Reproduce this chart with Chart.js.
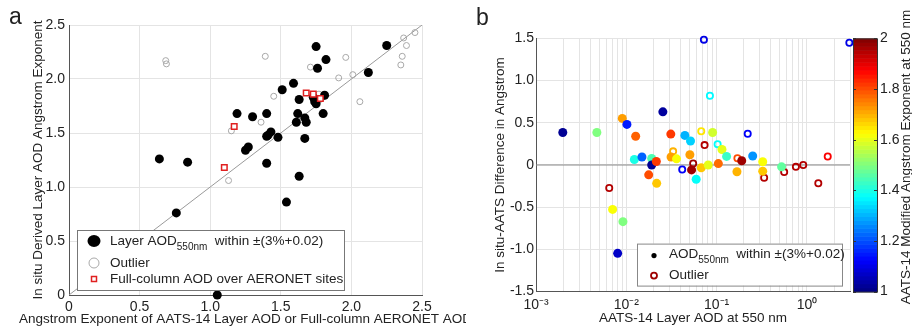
<!DOCTYPE html>
<html>
<head>
<meta charset="utf-8">
<title>Angstrom exponent comparison</title>
<script src="https://cdn.jsdelivr.net/npm/chart.js@4.4.0/dist/chart.umd.min.js"></script>
<style>
    html, body { margin: 0; padding: 0; background: #fff; }
    #wrap { position: relative; width: 912px; height: 330px; overflow: hidden; background: #fff; }
    #panel-a { position: absolute; left: 0; top: 0; }
    #panel-b { position: absolute; left: 466px; top: 0; background: #fff; }
</style>
</head>
<body>
<div id="wrap">
    <canvas id="panel-a" width="466" height="330"></canvas>
    <canvas id="panel-b" width="446" height="330"></canvas>
</div>
<script>
// ---- panel a: AATS-14 vs in situ Angstrom exponent ----
const inRangeAatsAE = [2.25, 1.75, 1.82, 1.76, 2.12, 1.59, 1.51, 1.63, 1.81, 1.73, 1.75, 1.80, 1.19, 1.30, 1.40, 1.62, 1.61, 1.67, 1.68, 1.67, 1.43, 1.41, 1.40, 1.48, 1.27, 1.25, 1.40, 0.64, 0.84, 1.63, 1.54, 0.76, 1.05, 1.74];
const inRangeInsituAE = [2.31, 2.30, 2.18, 2.10, 2.06, 1.96, 1.90, 1.81, 1.85, 1.83, 1.77, 1.68, 1.68, 1.65, 1.68, 1.68, 1.60, 1.64, 1.60, 1.45, 1.51, 1.48, 1.47, 1.46, 1.37, 1.34, 1.22, 1.26, 1.23, 1.10, 0.86, 0.76, 0.00, 1.79];
const outlierAatsAE = [0.685, 0.69, 1.39, 1.71, 1.96, 1.91, 2.01, 2.06, 1.45, 1.36, 1.15, 1.13, 2.37, 2.45, 2.39, 2.36, 2.35, 1.77];
const outlierInsituAE = [2.17, 2.14, 2.21, 2.11, 2.20, 2.01, 2.04, 1.79, 1.84, 1.60, 1.52, 1.06, 2.38, 2.43, 2.31, 2.21, 2.13, 1.86];
const aeronetAE = [1.17, 1.10, 1.68, 1.73, 1.78];
const aeronetInsituAE = [1.56, 1.18, 1.87, 1.86, 1.82];
const oneToOne = [0, 2.5];
const aeTicks = [0, 0.5, 1, 1.5, 2, 2.5];

// ---- panel b: difference vs layer AOD, coloured by AATS-14 AE ----
const inRangeAod = [0.00198, 0.00472, 0.00903, 0.01016, 0.0127, 0.0254, 0.01228, 0.0149, 0.0191, 0.0191, 0.0215, 0.0177, 0.0217, 0.00705, 0.00918, 0.00802, 0.0311, 0.0445, 0.0514, 0.0313, 0.036, 0.0506, 0.0528, 0.0594, 0.0676, 0.0807, 0.0903, 0.1147, 0.1045, 0.129, 0.1897, 0.168, 0.251, 0.324, 0.324, 0.524];
const inRangeDiff = [0.385, 0.385, 0.552, 0.481, 0.340, 0.630, 0.065, 0.095, 0.077, 0.0, 0.041, -0.117, -0.217, -0.526, -0.671, -1.047, 0.366, 0.351, 0.284, 0.095, 0.073, 0.121, -0.058, -0.169, -0.032, 0.0, 0.385, 0.184, 0.017, 0.102, 0.050, -0.080, 0.106, 0.039, -0.073, -0.022];
const inRangeModAE = [1.02, 1.5, 1.72, 1.15, 1.78, 1.03, 1.4, 1.22, 1.45, 1.02, 1.82, 1.8, 1.68, 1.62, 1.5, 1.07, 1.82, 1.3, 1.33, 1.72, 1.62, 1.72, 1.97, 1.38, 1.68, 1.6, 1.58, 1.6, 1.77, 1.43, 1.97, 1.7, 1.27, 1.62, 1.68, 1.47];
const outlierAod = [0.0723, 2.95, 0.0843, 0.0676, 0.0736, 0.1026, 0.221, 0.033, 0.055, 0.0416, 0.170, 0.336, 0.56, 0.755, 0.91, 1.70, 1.337, 0.00647];
const outlierDiff = [1.485, 1.448, 0.820, 0.400, 0.236, 0.247, 0.370, 0.162, 0.019, -0.054, 0.080, -0.151, -0.084, -0.022, 0.0, 0.100, -0.217, -0.273];
const outlierModAE = [1.1, 1.1, 1.37, 1.65, 1.95, 1.38, 1.12, 1.7, 1.97, 1.12, 1.8, 1.95, 1.95, 1.95, 1.95, 1.88, 1.95, 1.95];
const aodRange = [0.001, 3];
const diffTicks = [-1.5, -1, -0.5, 0, 0.5, 1, 1.5];
const colorbarRange = [1, 2];
const colorbarTicks = [1, 1.2, 1.4, 1.6, 1.8, 2];

const FONT = '"Liberation Sans", Arial, sans-serif';
const TEXT_COLOR = '#222';
const GRID_COLOR = '#e4e4e4';
const AXIS_COLOR = '#555';

Chart.defaults.font.family = FONT;
Chart.defaults.font.size = 14;
Chart.defaults.color = TEXT_COLOR;

// matlab jet colormap, v in colorbar range
function jet(v) {
    const t = Math.min(1, Math.max(0, (v - colorbarRange[0]) / (colorbarRange[1] - colorbarRange[0])));
    const c = x => Math.round(255 * Math.min(1, Math.max(0, x)));
    const r = c(Math.min(4 * t - 1.5, -4 * t + 4.5));
    const g = c(Math.min(4 * t - 0.5, -4 * t + 3.5));
    const b = c(Math.min(4 * t + 0.5, -4 * t + 2.5));
    return `rgb(${r}, ${g}, ${b})`;
}

function toPoints(xs, ys) {
    return xs.map((x, i) => ({ x: x, y: ys[i] }));
}

const SUPERSCRIPT = { '-': '\u207B', '0': '\u2070', '1': '\u00B9', '2': '\u00B2', '3': '\u00B3' };
function powerLabel(v) {
    const e = Math.round(Math.log10(v));
    if (Math.abs(v - Math.pow(10, e)) > 1e-9 * Math.pow(10, e)) return '';
    return '10' + String(e).split('').map(ch => SUPERSCRIPT[ch]).join('');
}

// text with a lowered subscript part, returns end x
function drawSubText(ctx, parts, x, y) {
    parts.forEach(p => {
        ctx.font = p.sub ? `10px ${FONT}` : `13.5px ${FONT}`;
        ctx.fillText(p.text, x, p.sub ? y + 6 : y);
        x += ctx.measureText(p.text).width;
    });
    return x;
}

class AngstromFigure {
    constructor() {
        this.panelA = null;
        this.panelB = null;
        this.init();
    }

    init() {
        this.initPanelA();
        this.initPanelB();
    }

    initPanelA() {
        const ctx = document.getElementById('panel-a').getContext('2d');

        const overlay = {
            id: 'panelAOverlay',
            afterDraw(chart) {
                const c = chart.ctx;
                const area = chart.chartArea;
                c.save();
                c.fillStyle = TEXT_COLOR;

                // x title (runs past the panel edge, as in the figure)
                c.font = `13.5px ${FONT}`;
                c.textAlign = 'center';
                c.textBaseline = 'middle';
                c.fillText('Angstrom Exponent of AATS-14 Layer AOD or Full-column AERONET AOD', (area.left + area.right) / 2, 319);

                // panel letter
                c.font = `23px ${FONT}`;
                c.textAlign = 'left';
                c.textBaseline = 'alphabetic';
                c.fillText('a', 9, 24);

                // legend
                const lx = area.left + 8, ly = area.bottom - 65;
                c.fillStyle = '#fff';
                c.fillRect(lx, ly, 267, 60);
                c.strokeStyle = '#777';
                c.lineWidth = 1;
                c.strokeRect(lx + 0.5, ly + 0.5, 267, 60);

                c.fillStyle = '#000';
                c.beginPath();
                c.ellipse(lx + 17, ly + 11, 6.5, 6, 0, 0, Math.PI * 2);
                c.fill();

                c.strokeStyle = '#aaa';
                c.lineWidth = 1;
                c.beginPath();
                c.arc(lx + 17, ly + 33, 5, 0, Math.PI * 2);
                c.stroke();

                c.strokeStyle = '#e02020';
                c.lineWidth = 1.5;
                c.strokeRect(lx + 14.5, ly + 46.5, 5, 5);

                c.fillStyle = TEXT_COLOR;
                c.textBaseline = 'middle';
                drawSubText(c, [
                    { text: 'Layer AOD' },
                    { text: '550nm', sub: true },
                    { text: '  within \u00B1(3%+0.02)' }
                ], lx + 33, ly + 11);
                drawSubText(c, [{ text: 'Outlier' }], lx + 33, ly + 33);
                drawSubText(c, [{ text: 'Full-column AOD over AERONET sites' }], lx + 33, ly + 49);
                c.restore();
            }
        };

        this.panelA = new Chart(ctx, {
            type: 'scatter',
            data: {
                datasets: [
                    {
                        label: 'Full-column AOD over AERONET sites',
                        data: toPoints(aeronetAE, aeronetInsituAE),
                        pointStyle: 'rect',
                        pointRadius: 3.9,
                        pointBorderWidth: 1.5,
                        pointBorderColor: '#e02020',
                        pointBackgroundColor: '#fff',
                        clip: false,
                        order: 0
                    },
                    {
                        label: 'Layer AOD within',
                        data: toPoints(inRangeAatsAE, inRangeInsituAE),
                        pointRadius: 4.5,
                        pointBorderWidth: 0,
                        pointBackgroundColor: '#000',
                        clip: false,
                        order: 1
                    },
                    {
                        label: 'Outlier',
                        data: toPoints(outlierAatsAE, outlierInsituAE),
                        pointRadius: 3,
                        pointBorderWidth: 1,
                        pointBorderColor: '#a8a8a8',
                        pointBackgroundColor: 'rgba(255,255,255,0)',
                        clip: false,
                        order: 2
                    },
                    {
                        label: '1:1',
                        data: toPoints(oneToOne, oneToOne),
                        showLine: true,
                        borderColor: '#9a9a9a',
                        borderWidth: 1,
                        pointRadius: 0,
                        order: 3
                    }
                ]
            },
            options: {
                responsive: false,
                animation: false,
                events: [],
                layout: { padding: { top: 25, right: 44, left: 0, bottom: 0 } },
                plugins: { legend: { display: false }, tooltip: { enabled: false } },
                scales: {
                    x: {
                        type: 'linear',
                        min: aeTicks[0],
                        max: aeTicks[aeTicks.length - 1],
                        afterBuildTicks: s => { s.ticks = aeTicks.map(v => ({ value: v })); },
                        ticks: { padding: 4, maxRotation: 0, autoSkip: false },
                        grid: { color: GRID_COLOR, drawTicks: false },
                        border: { color: AXIS_COLOR },
                        afterFit: s => { s.height = 35; }
                    },
                    y: {
                        type: 'linear',
                        min: aeTicks[0],
                        max: aeTicks[aeTicks.length - 1],
                        afterBuildTicks: s => { s.ticks = aeTicks.map(v => ({ value: v })); },
                        ticks: { padding: 4, autoSkip: false },
                        grid: { color: GRID_COLOR, drawTicks: false },
                        border: { color: AXIS_COLOR },
                        title: {
                            display: true,
                            text: 'In situ Derived Layer AOD Angstrom Exponent',
                            font: { size: 13.5 },
                            padding: { top: 30, bottom: 0 }
                        },
                        afterFit: s => { s.width = 69; }
                    }
                }
            },
            plugins: [overlay]
        });
    }

    initPanelB() {
        const ctx = document.getElementById('panel-b').getContext('2d');

        const overlay = {
            id: 'panelBOverlay',
            afterDraw(chart) {
                const c = chart.ctx;
                const area = chart.chartArea;
                const cb = chart.scales.cb;
                c.save();

                // colorbar
                const x0 = area.right + 3, w = 24;
                const steps = 64;
                for (let i = 0; i < steps; i++) {
                    const v0 = colorbarRange[0] + (colorbarRange[1] - colorbarRange[0]) * i / steps;
                    const v1 = colorbarRange[0] + (colorbarRange[1] - colorbarRange[0]) * (i + 1) / steps;
                    const yA = cb.getPixelForValue(v0), yB = cb.getPixelForValue(v1);
                    c.fillStyle = jet((v0 + v1) / 2);
                    c.fillRect(x0, yB, w, yA - yB + 0.6);
                }
                const top = cb.getPixelForValue(colorbarRange[1]);
                const bottom = cb.getPixelForValue(colorbarRange[0]);
                c.strokeStyle = '#333';
                c.lineWidth = 1;
                c.strokeRect(x0 + 0.5, top + 0.5, w, bottom - top);
                colorbarTicks.forEach(v => {
                    const y = Math.round(cb.getPixelForValue(v)) + 0.5;
                    c.beginPath();
                    c.moveTo(x0, y); c.lineTo(x0 + 3, y);
                    c.moveTo(x0 + w, y); c.lineTo(x0 + w - 3, y);
                    c.stroke();
                });

                // colorbar title
                c.fillStyle = TEXT_COLOR;
                c.font = `13.5px ${FONT}`;
                c.textAlign = 'center';
                c.textBaseline = 'middle';
                c.translate(440, 157);
                c.rotate(-Math.PI / 2);
                c.fillText('AATS-14 Modified Angstrom Exponent at 550 nm', 0, 0);
                c.setTransform(1, 0, 0, 1, 0, 0);

                // panel letter
                c.font = `23px ${FONT}`;
                c.textAlign = 'left';
                c.textBaseline = 'alphabetic';
                c.fillText('b', 10, 25);

                // legend
                const lx = area.left + 101, ly = area.bottom - 48;
                c.fillStyle = '#fff';
                c.fillRect(lx, ly, 205, 42);
                c.strokeStyle = '#888';
                c.strokeRect(lx + 0.5, ly + 0.5, 205, 42);

                c.fillStyle = '#000';
                c.beginPath();
                c.arc(lx + 17, ly + 12, 2.6, 0, Math.PI * 2);
                c.fill();

                c.strokeStyle = jet(1.97);
                c.lineWidth = 1.8;
                c.beginPath();
                c.arc(lx + 17, ly + 32, 3, 0, Math.PI * 2);
                c.stroke();

                c.fillStyle = TEXT_COLOR;
                c.textBaseline = 'middle';
                drawSubText(c, [
                    { text: 'AOD' },
                    { text: '550nm', sub: true },
                    { text: '  within \u00B1(3%+0.02)' }
                ], lx + 32, ly + 11);
                drawSubText(c, [{ text: 'Outlier' }], lx + 32, ly + 32);
                c.restore();
            }
        };

        const logTicks = [];
        for (let e = -3; e <= 0; e++) {
            for (let k = 1; k <= 9; k++) {
                const v = +(k * Math.pow(10, e)).toPrecision(3);
                if (v <= aodRange[1]) logTicks.push(v);
            }
        }

        this.panelB = new Chart(ctx, {
            type: 'scatter',
            data: {
                datasets: [
                    {
                        label: 'AOD within',
                        data: toPoints(inRangeAod, inRangeDiff),
                        pointRadius: 4.5,
                        pointBorderWidth: 0,
                        pointBackgroundColor: inRangeModAE.map(jet),
                        clip: false,
                        order: 0
                    },
                    {
                        label: 'Outlier',
                        data: toPoints(outlierAod, outlierDiff),
                        pointRadius: 3.1,
                        pointBorderWidth: 1.8,
                        pointBorderColor: outlierModAE.map(jet),
                        pointBackgroundColor: 'rgba(255,255,255,0)',
                        clip: false,
                        order: 1
                    },
                    {
                        label: 'zero',
                        data: toPoints(aodRange, [0, 0]),
                        showLine: true,
                        borderColor: '#8a8a8a',
                        borderWidth: 1.2,
                        pointRadius: 0,
                        order: 2
                    }
                ]
            },
            options: {
                responsive: false,
                animation: false,
                events: [],
                layout: { padding: { top: 26, right: 0, left: 0, bottom: 0 } },
                plugins: { legend: { display: false }, tooltip: { enabled: false } },
                scales: {
                    x: {
                        type: 'logarithmic',
                        min: aodRange[0],
                        max: aodRange[1],
                        afterBuildTicks: s => { s.ticks = logTicks.map(v => ({ value: v })); },
                        ticks: { padding: 5, maxRotation: 0, autoSkip: false, callback: v => powerLabel(v) },
                        grid: { color: GRID_COLOR, drawTicks: false },
                        border: { color: AXIS_COLOR },
                        title: {
                            display: true,
                            text: 'AATS-14 Layer AOD at 550 nm',
                            font: { size: 13.5 },
                            padding: { top: 0, bottom: 0 }
                        },
                        afterFit: s => { s.height = 35; }
                    },
                    y: {
                        type: 'linear',
                        min: diffTicks[0],
                        max: diffTicks[diffTicks.length - 1],
                        afterBuildTicks: s => { s.ticks = diffTicks.map(v => ({ value: v })); },
                        ticks: { padding: 2, autoSkip: false },
                        grid: { color: GRID_COLOR, drawTicks: false },
                        border: { color: AXIS_COLOR },
                        title: {
                            display: true,
                            text: 'In situ-AATS Difference in Angstrom',
                            font: { size: 13.5 },
                            padding: { top: 26, bottom: 0 }
                        },
                        afterFit: s => { s.width = 70; }
                    },
                    cb: {
                        type: 'linear',
                        position: 'right',
                        min: colorbarRange[0],
                        max: colorbarRange[1],
                        afterBuildTicks: s => { s.ticks = colorbarTicks.map(v => ({ value: v })); },
                        ticks: { padding: 30, autoSkip: false, callback: v => String(Math.round(v * 10) / 10) },
                        grid: { display: false, drawTicks: false },
                        border: { display: false },
                        afterFit: s => { s.width = 62; }
                    }
                }
            },
            plugins: [overlay]
        });
    }
}

document.addEventListener('DOMContentLoaded', () => {
    new AngstromFigure();
});
</script>
</body>
</html>
